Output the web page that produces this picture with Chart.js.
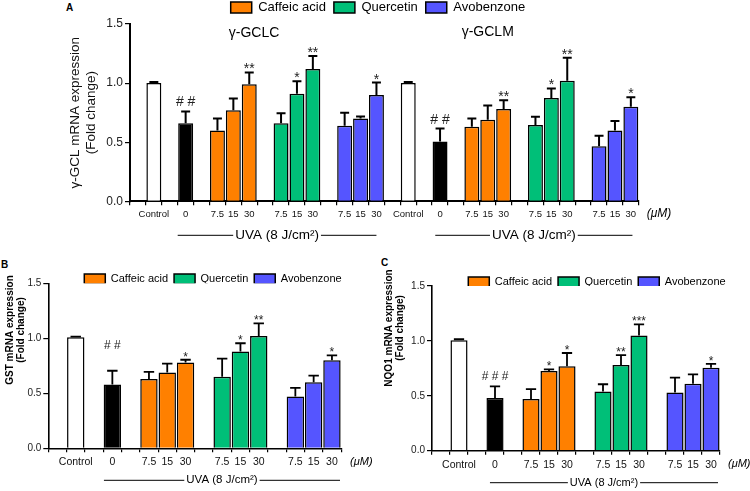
<!DOCTYPE html>
<html>
<head>
<meta charset="utf-8">
<script src="https://cdn.jsdelivr.net/npm/chart.js@4.4.0/dist/chart.umd.min.js"></script>
<style>
  html, body { margin: 0; padding: 0; background: #fff; }
  body { width: 750px; height: 491px; position: relative; overflow: hidden; font-family: 'Liberation Sans', Arial, sans-serif; }
  canvas { position: absolute; }
  .tag { position: absolute; font-weight: bold; font-size: 10px; color: #000; line-height: 12px; }
</style>
</head>
<body>
<div class="tag" style="left:66px;top:2px">A</div>
<div class="tag" style="left:1px;top:259px">B</div>
<div class="tag" style="left:381px;top:257px">C</div>
<canvas id="chartA" width="756" height="252" style="left:0;top:-8px"></canvas>
<canvas id="chartB" width="426" height="235" style="left:0;top:256px"></canvas>
<canvas id="chartC" width="434" height="235" style="left:380px;top:256px"></canvas>
<script>
// one panel: spacer slots are '' so bars sit where the figure puts them
const tickLabels = ['', 'Control', '', '0', '', '7.5', '15', '30', '', '7.5', '15', '30', '', '7.5', '15', '30'];
const seriesNames = ['Control', 'UVA', 'Caffeic acid', 'Quercetin', 'Avobenzone'];
const seriesColors = ['#ffffff', '#000000', '#ff8000', '#00bf78', '#5555ff'];
// which series each bar belongs to (Control, 0, 3x caffeic, 3x quercetin, 3x avobenzone)
const barSeries = [0, 1, 2, 2, 2, 3, 3, 3, 4, 4, 4];

const gclcMean = [1.00, 0.66, 0.60, 0.77, 0.99, 0.66, 0.91, 1.12, 0.64, 0.70, 0.90];
const gclcErr = [0.01, 0.10, 0.10, 0.10, 0.10, 0.085, 0.105, 0.11, 0.11, 0.017, 0.105];
const gclcSig = ['', '# #', '', '', '**', '', '*', '**', '', '', '*'];

const gclmMean = [1.00, 0.505, 0.63, 0.69, 0.78, 0.645, 0.875, 1.02, 0.465, 0.60, 0.80];
const gclmErr = [0.01, 0.11, 0.07, 0.12, 0.075, 0.07, 0.08, 0.195, 0.09, 0.08, 0.08];
const gclmSig = ['', '# #', '', '', '**', '', '*', '**', '', '', '*'];

const gstMean = [1.01, 0.58, 0.63, 0.69, 0.78, 0.65, 0.88, 1.02, 0.47, 0.60, 0.80];
const gstErr = [0.005, 0.125, 0.065, 0.08, 0.025, 0.165, 0.075, 0.115, 0.08, 0.06, 0.045];
const gstSig = ['', '# #', '', '', '*', '', '*', '**', '', '', '*'];

const nqo1Mean = [1.005, 0.48, 0.47, 0.725, 0.77, 0.54, 0.78, 1.05, 0.53, 0.61, 0.755];
const nqo1Err = [0.01, 0.105, 0.09, 0.015, 0.12, 0.065, 0.09, 0.10, 0.135, 0.085, 0.035];
const nqo1Sig = ['', '# # #', '', '*', '*', '', '**', '***', '', '', '*'];

const FONT = "'Liberation Sans', Arial, sans-serif";

function buildDatasets(labels, means, errs, sigs, series, barPct) {
  const slots = labels.map((l, i) => (l ? i : -1)).filter((i) => i >= 0);
  return seriesNames.map((name, s) => {
    const data = labels.map(() => null);
    const errors = labels.map(() => null);
    const marks = labels.map(() => '');
    series.forEach((ser, k) => {
      if (ser !== s) return;
      data[slots[k]] = means[k];
      errors[slots[k]] = errs[k];
      marks[slots[k]] = sigs[k];
    });
    return {
      label: name,
      data,
      errors,
      marks,
      backgroundColor: seriesColors[s],
      borderColor: '#000',
      borderWidth: 1.5,
      grouped: false,
      barPercentage: barPct,
      categoryPercentage: 1,
    };
  });
}

const errorBars = {
  id: 'errorBars',
  afterDatasetsDraw(chart, args, o) {
    const { ctx } = chart;
    const y = chart.scales.y;
    ctx.save();
    chart.data.datasets.forEach((ds, i) => {
      const meta = chart.getDatasetMeta(i);
      meta.data.forEach((bar, j) => {
        const v = ds.data[j];
        if (v == null) return;
        const top = y.getPixelForValue(v + ds.errors[j]);
        const half = bar.width * 0.3;
        ctx.strokeStyle = '#000';
        ctx.lineWidth = o.lineWidth;
        ctx.beginPath();
        ctx.moveTo(bar.x, bar.y);
        ctx.lineTo(bar.x, top);
        ctx.moveTo(bar.x - half, top);
        ctx.lineTo(bar.x + half, top);
        ctx.stroke();
        const m = ds.marks[j];
        if (m) {
          ctx.fillStyle = '#222';
          ctx.font = o.markFont;
          ctx.textAlign = 'center';
          ctx.textBaseline = 'alphabetic';
          const gap = m.includes('#') ? o.hashGap : o.starGap;
          ctx.fillText(m, bar.x, top - gap);
        }
      });
    });
    ctx.restore();
  },
};

const extras = {
  id: 'extras',
  afterDraw(chart, args, o) {
    const { ctx, chartArea } = chart;
    const x = chart.scales.x;
    ctx.save();
    ctx.fillStyle = '#000';
    ctx.strokeStyle = '#000';
    ctx.textBaseline = 'middle';
    (o.subtitles || []).forEach((s) => {
      ctx.font = o.subFont;
      ctx.textAlign = 'center';
      ctx.fillText(s.text, x.getPixelForValue(s.at), chartArea.top + s.dy);
    });
    ctx.font = o.unitFont;
    ctx.textAlign = 'left';
    ctx.fillText('(\u03bcM)', chartArea.right + o.unitDx, chartArea.bottom + o.unitDy);

    ctx.font = o.uvaFont;
    const yy = chartArea.bottom + o.uvaDy;
    o.uva.forEach(([a, b]) => {
      const x1 = x.getPixelForValue(a);
      const x2 = x.getPixelForValue(b);
      const mid = (x1 + x2) / 2;
      const w = ctx.measureText(o.uvaText).width / 2 + 2;
      ctx.lineWidth = 1;
      ctx.beginPath();
      ctx.moveTo(x1, yy);
      ctx.lineTo(mid - w, yy);
      ctx.moveTo(mid + w, yy);
      ctx.lineTo(x2, yy);
      ctx.stroke();
      ctx.textAlign = 'center';
      ctx.fillText(o.uvaText, mid, yy);
    });

    if (o.side) {
      ctx.save();
      ctx.translate(o.side.x, o.side.y);
      ctx.rotate(-Math.PI / 2);
      ctx.font = o.side.font;
      ctx.textAlign = 'center';
      o.side.lines.forEach((l, i) => ctx.fillText(l, 0, i * o.side.lh));
      ctx.restore();
    }
    ctx.restore();
  },
};

function makeChart(id, p) {
  return new Chart(document.getElementById(id), {
    type: 'bar',
    data: { labels: p.labels, datasets: p.datasets },
    plugins: [errorBars, extras],
    options: {
      responsive: false,
      animation: false,
      events: [],
      layout: { padding: { top: p.padTop, bottom: p.padBottom, left: 0, right: 0 } },
      plugins: {
        tooltip: { enabled: false },
        legend: {
          position: 'top',
          maxHeight: p.legendMax,
          labels: {
            font: { family: FONT, size: p.legendSize },
            color: '#000',
            boxWidth: 21,
            boxHeight: p.legendBox,
            padding: p.legendPad,
            filter: (item) => item.datasetIndex >= 2,
          },
        },
        errorBars: p.errorBars,
        extras: p.extras,
      },
      scales: {
        x: {
          grid: { display: true, drawOnChartArea: false, drawTicks: true, tickLength: 4, color: '#000', lineWidth: 1.2, offset: true },
          border: { display: true, color: '#000', width: p.axisWidth },
          ticks: { autoSkip: false, maxRotation: 0, padding: p.xPad, color: '#111', font: { family: FONT, size: p.xSize } },
          afterFit: (s) => { s.height = 30; },
        },
        y: {
          min: 0,
          max: 1.5,
          grid: { display: true, drawOnChartArea: false, tickLength: 5, color: '#000', lineWidth: 1.2 },
          border: { display: true, color: '#000', width: p.axisWidth },
          ticks: { stepSize: 0.5, padding: 2, color: '#222', font: { family: FONT, size: p.ySize }, callback: (v) => v.toFixed(1) },
          title: p.yTitle || { display: false },
          afterFit: (s) => { s.width = p.yWidth; },
        },
        y2: {
          position: 'right',
          grid: { display: false },
          border: { display: false },
          ticks: { display: false },
          afterFit: (s) => { s.width = p.rightWidth; },
        },
      },
    },
  });
}

makeChart('chartA', {
  labels: tickLabels.concat(tickLabels),
  datasets: buildDatasets(tickLabels.concat(tickLabels), gclcMean.concat(gclmMean), gclcErr.concat(gclmErr),
    gclcSig.concat(gclmSig), barSeries.concat(barSeries), 0.94),
  padTop: 1,
  padBottom: 12.7,
  legendMax: undefined,
  legendSize: 13,
  legendBox: 11,
  legendPad: 8,
  axisWidth: 2,
  xPad: 3,
  xSize: 9.5,
  ySize: 12,
  yWidth: 130,
  rightWidth: 117.2,
  yTitle: {
    display: true,
    text: ['\u03b3-GCL mRNA expression', '(Fold change)'],
    color: '#111',
    font: { family: FONT, size: 13.5, lineHeight: 1.2 },
    padding: { top: 67, bottom: 0 },
  },
  errorBars: { lineWidth: 2, markFont: '14px ' + FONT, hashGap: 5, starGap: -1 },
  extras: {
    subtitles: [{ text: '\u03b3-GCLC', at: 7.3, dy: 9 }, { text: '\u03b3-GCLM', at: 22.0, dy: 8 }],
    subFont: '14px ' + FONT,
    unitFont: 'italic 12px ' + FONT,
    unitDx: 8,
    unitDy: 12,
    uvaFont: '13.5px ' + FONT,
    uvaText: 'UVA (8 J/cm\u00b2)',
    uvaDy: 34,
    uva: [[2.5, 15], [18.7, 31.1]],
  },
});

makeChart('chartB', {
  labels: tickLabels,
  datasets: buildDatasets(tickLabels, gstMean, gstErr, gstSig, barSeries, 0.95),
  padTop: 11.5,
  padBottom: 12.7,
  legendMax: 15.8,
  legendSize: 11,
  legendBox: 10,
  legendPad: 6,
  axisWidth: 1.6,
  xPad: 4,
  xSize: 10.5,
  ySize: 10,
  yWidth: 48.3,
  rightWidth: 84.9,
  errorBars: { lineWidth: 1.8, markFont: '12px ' + FONT, hashGap: 22, starGap: -1 },
  extras: {
    unitFont: 'italic 11px ' + FONT,
    unitDx: 9,
    unitDy: 14,
    uvaFont: '11.5px ' + FONT,
    uvaText: 'UVA (8 J/cm\u00b2)',
    uvaDy: 32,
    uva: [[2.54, 15.44]],
    side: { x: 10, y: 74, lh: 11, font: 'bold 10px ' + FONT, lines: ['GST mRNA expression', '(Fold change)'] },
  },
});

makeChart('chartC', {
  labels: tickLabels,
  datasets: buildDatasets(tickLabels, nqo1Mean, nqo1Err, nqo1Sig, barSeries, 0.95),
  padTop: 14.5,
  padBottom: 10.3,
  legendMax: 15.5,
  legendSize: 11,
  legendBox: 10,
  legendPad: 6,
  axisWidth: 1.6,
  xPad: 4,
  xSize: 10.5,
  ySize: 10,
  yWidth: 52,
  rightWidth: 94,
  errorBars: { lineWidth: 1.8, markFont: '12px ' + FONT, hashGap: 6, starGap: -1 },
  extras: {
    unitFont: 'italic 11px ' + FONT,
    unitDx: 8,
    unitDy: 13,
    uvaFont: '11px ' + FONT,
    uvaText: 'UVA (8 J/cm\u00b2)',
    uvaDy: 32,
    uva: [[2.72, 15.39]],
    side: { x: 9, y: 72, lh: 11, font: 'bold 10px ' + FONT, lines: ['NQO1 mRNA expression', '(Fold change)'] },
  },
});
</script>
</body>
</html>
